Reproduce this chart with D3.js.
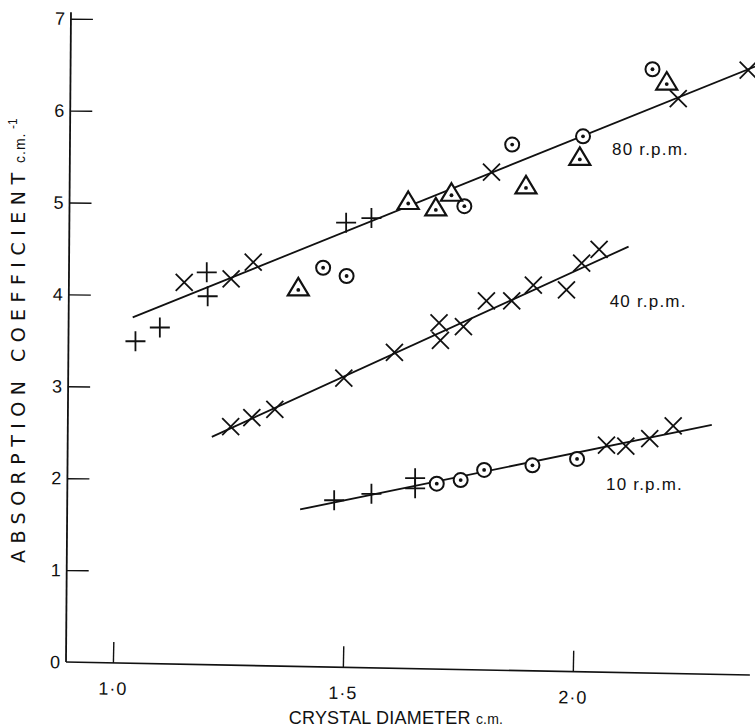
<!DOCTYPE html>
<html>
<head>
<meta charset="utf-8">
<script src="https://cdnjs.cloudflare.com/ajax/libs/d3/7.8.5/d3.min.js"></script>
<style>
  html, body { margin: 0; padding: 0; background: #fff; }
  svg { display: block; }
  text { font-family: "Liberation Sans", Arial, sans-serif; fill: #111; }
</style>
</head>
<body>
<svg id="chart" width="755" height="728"></svg>
<script>
// x = crystal diameter (c.m.), y = absorption coefficient (c.m.^-1)
const xTicks = [1.0, 1.5, 2.0];
const xTickLabels = ['1·0', '1·5', '2·0'];
const yTicks = [0, 1, 2, 3, 4, 5, 6, 7];

// 80 r.p.m.
const plus80 = [[1.049, 3.49], [1.102, 3.64], [1.204, 4.24], [1.206, 3.98], [1.507, 4.78], [1.562, 4.83]];
const cross80 = [[1.155, 4.13], [1.257, 4.17], [1.305, 4.35], [1.823, 5.33], [2.229, 6.13], [2.381, 6.44]];
const circle80 = [[1.457, 4.29], [1.508, 4.20], [1.764, 4.96], [1.868, 5.63], [2.022, 5.72], [2.173, 6.45]];
const triangle80 = [[1.403, 4.06], [1.642, 5.00], [1.702, 4.93], [1.736, 5.09], [1.898, 5.17], [2.015, 5.48], [2.204, 6.30]];
const line80 = [[1.043, 3.75], [2.396, 6.48]];

// 40 r.p.m.
const cross40 = [[1.256, 2.56], [1.302, 2.66], [1.352, 2.75], [1.502, 3.09], [1.612, 3.37], [1.709, 3.69], [1.712, 3.50],
  [1.762, 3.65], [1.812, 3.93], [1.867, 3.93], [1.914, 4.10], [1.986, 4.05], [2.019, 4.34], [2.057, 4.49]];
const line40 = [[1.215, 2.45], [2.121, 4.52]];

// 10 r.p.m.
const plus10 = [[1.481, 1.76], [1.562, 1.83], [1.657, 2.00], [1.657, 1.89]];
const circle10 = [[1.704, 1.94], [1.756, 1.98], [1.807, 2.09], [1.912, 2.14], [2.009, 2.21]];
const cross10 = [[2.073, 2.36], [2.115, 2.35], [2.167, 2.43], [2.218, 2.57]];
const line10 = [[1.407, 1.66], [2.302, 2.58]];

const seriesLabels = [
  { text: '80 r.p.m.', x: 2.085, y: 5.52 },
  { text: '40 r.p.m.', x: 2.080, y: 3.86 },
  { text: '10 r.p.m.', x: 2.072, y: 1.87 }
];

const svg = d3.select('#chart');
const ox = 66, oy = 662;

const x = d3.scaleLinear().domain([0.898, 2.385]).range([ox, 750]);
const y = d3.scaleLinear().domain([0, 7]).range([oy, 18.7]);

// axes (the scan is slightly skewed, so each axis group gets a small tilt)
const xAxis = d3.axisBottom(x)
  .tickValues(xTicks)
  .tickFormat((d, i) => xTickLabels[i])
  .tickSize(-21)
  .tickSizeOuter(0)
  .tickPadding(19);

const gx = svg.append('g')
  .attr('transform', `rotate(1.09, ${ox}, ${oy}) translate(0, ${oy})`)
  .call(xAxis);
gx.select('.domain').remove();
gx.append('line')
  .attr('x1', ox).attr('x2', x(2.385))
  .attr('stroke', '#111').attr('stroke-width', 1.6);
gx.selectAll('.tick line').attr('stroke', '#111').attr('stroke-width', 1.4);
gx.selectAll('.tick text')
  .attr('font-size', 18)
  .attr('letter-spacing', 1)
  .attr('fill', '#111');

const yAxis = d3.axisLeft(y)
  .tickValues(yTicks)
  .tickFormat(d3.format('d'))
  .tickSize(-22)
  .tickSizeOuter(0)
  .tickPadding(6);

const gy = svg.append('g')
  .attr('transform', `rotate(0.44, ${ox}, ${oy}) translate(${ox}, 0)`)
  .call(yAxis);
gy.select('.domain').remove();
gy.append('line')
  .attr('y1', oy).attr('y2', y(7.07))
  .attr('stroke', '#111').attr('stroke-width', 1.8);
gy.selectAll('.tick line').attr('stroke', '#111').attr('stroke-width', 1.4);
gy.selectAll('.tick').filter(d => d === 0).select('line').remove();
gy.selectAll('.tick text').attr('font-size', 18).attr('fill', '#111');

// axis titles
const yTitle = svg.append('g')
  .attr('transform', 'translate(25, 563) rotate(-90)');
yTitle.append('text')
  .attr('x', 0).attr('y', 0)
  .style('font-family', '"DejaVu Sans", sans-serif')
  .attr('font-size', 19)
  .attr('textLength', 390)
  .attr('lengthAdjust', 'spacing')
  .text('ABSORPTION COEFFICIENT');
yTitle.append('text')
  .attr('x', 400).attr('y', 0)
  .attr('font-size', 14)
  .attr('letter-spacing', 1)
  .text('c.m.');
yTitle.append('text')
  .attr('x', 434).attr('y', -8)
  .attr('font-size', 12)
  .text('-1');

const xTitle = svg.append('text')
  .attr('x', 396).attr('y', 724)
  .attr('text-anchor', 'middle')
  .attr('font-size', 18)
  .attr('letter-spacing', 0.2);
xTitle.append('tspan').text('CRYSTAL DIAMETER ');
xTitle.append('tspan').attr('font-size', 14).text('c.m.');

// fitted lines
const lineGen = d3.line().x(d => x(d[0])).y(d => y(d[1]));
svg.append('g')
  .selectAll('path')
  .data([line80, line40, line10])
  .enter().append('path')
  .attr('d', lineGen)
  .attr('fill', 'none')
  .attr('stroke', '#111')
  .attr('stroke-width', 1.8);

// markers
const pos = d => `translate(${x(d[0])},${y(d[1])})`;

function drawPlus(data) {
  svg.append('g').selectAll('path').data(data).enter().append('path')
    .attr('transform', pos)
    .attr('d', 'M-10,0H10M0,-10V10')
    .attr('stroke', '#111').attr('stroke-width', 1.8).attr('fill', 'none');
}

function drawCross(data) {
  svg.append('g').selectAll('path').data(data).enter().append('path')
    .attr('transform', pos)
    .attr('d', 'M-8.5,-8.5L8.5,8.5M-8.5,8.5L8.5,-8.5')
    .attr('stroke', '#111').attr('stroke-width', 1.8).attr('fill', 'none');
}

function drawCircle(data) {
  const g = svg.append('g').selectAll('g').data(data).enter().append('g')
    .attr('transform', pos);
  g.append('circle').attr('r', 7)
    .attr('fill', '#fff').attr('stroke', '#111').attr('stroke-width', 2);
  g.append('circle').attr('r', 1.9).attr('fill', '#111');
}

function drawTriangle(data) {
  const g = svg.append('g').selectAll('g').data(data).enter().append('g')
    .attr('transform', pos);
  g.append('path').attr('d', 'M0,-11L10.5,6.5L-10.5,6.5Z')
    .attr('fill', '#fff').attr('stroke', '#111').attr('stroke-width', 2.2)
    .attr('stroke-linejoin', 'miter');
  g.append('circle').attr('cy', 1).attr('r', 1.9).attr('fill', '#111');
}

drawPlus(plus80);
drawCross(cross80);
drawCircle(circle80);
drawTriangle(triangle80);

drawCross(cross40);

drawPlus(plus10);
drawCircle(circle10);
drawCross(cross10);

// series labels
svg.append('g')
  .selectAll('text')
  .data(seriesLabels)
  .enter().append('text')
  .attr('x', d => x(d.x))
  .attr('y', d => y(d.y))
  .attr('font-size', 17)
  .attr('letter-spacing', 1.2)
  .text(d => d.text);
</script>
</body>
</html>
